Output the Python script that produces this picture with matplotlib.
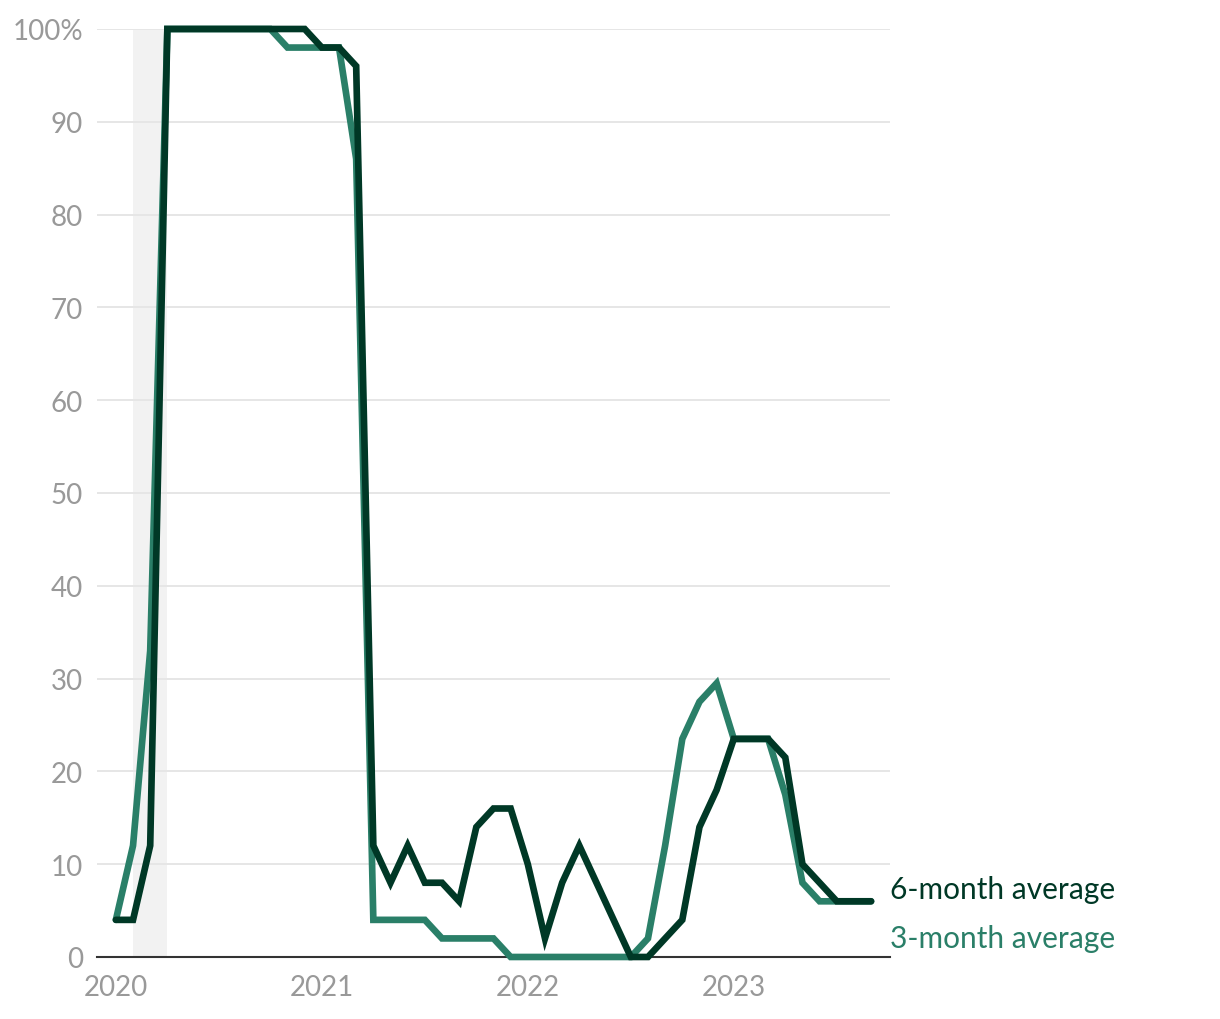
import matplotlib.pyplot as plt
import numpy as np

# monthly values, Jan 2020 .. Sep 2023
six_month = [4, 4, 12, 100, 100, 100, 100, 100, 100, 100, 100, 100,
             98, 98, 96, 12, 8, 12, 8, 8, 6, 14, 16, 16,
             10, 2, 8, 12, 8, 4, 0, 0, 2, 4, 14, 18,
             23.5, 23.5, 23.5, 21.5, 10, 8, 6, 6, 6]
three_month = [4, 12, 33, 100, 100, 100, 100, 100, 100, 100, 98, 98,
               98, 98, 86, 4, 4, 4, 4, 2, 2, 2, 2, 0,
               0, 0, 0, 0, 0, 0, 0, 2, 12, 23.5, 27.5, 29.5,
               23.5, 23.5, 23.5, 17.5, 8, 6, 6, 6, 6]
year_labels = ['2020', '2021', '2022', '2023']
recession = (1, 3)  # Feb 2020 .. Apr 2020

dark = '#003826'
teal = '#2a7f68'
gray = '#999999'

plt.rcParams['font.family'] = ['Lato', 'DejaVu Sans']

fig = plt.figure(figsize=(12.2, 10.2), dpi=100)
ax = fig.add_axes([0.0795, 0.0608, 0.65, 0.9098])

months = np.arange(len(six_month))
ax.axvspan(recession[0], recession[1], color='#f2f2f2', lw=0, zorder=0)
ax.plot(months, three_month, color=teal, lw=4.8, solid_joinstyle='miter',
        solid_capstyle='round', clip_on=False, zorder=3)
ax.plot(months, six_month, color=dark, lw=4.8, solid_joinstyle='miter',
        solid_capstyle='round', clip_on=False, zorder=4)

ax.set_xlim(-1.1, len(months) - 1 + 1.1)
ax.set_ylim(0, 100)
ax.set_yticks(range(0, 101, 10))
ax.set_yticklabels([str(v) if v < 100 else '100%' for v in range(0, 101, 10)])
ax.set_xticks([0, 12, 24, 36])
ax.set_xticklabels(year_labels)
ax.tick_params(axis='both', length=0, labelsize=20, labelcolor=gray)
ax.tick_params(axis='y', pad=10)
ax.tick_params(axis='x', pad=12)
ax.grid(axis='y', color='#e6e6e6', lw=1.4)
ax.set_axisbelow(True)
for s in ['top', 'right', 'left']:
    ax.spines[s].set_visible(False)
ax.spines['bottom'].set_color('#333333')
ax.spines['bottom'].set_linewidth(1.5)

last = len(months) - 1
ax.text(last + 1.1, 7.3, '6-month average', color=dark, fontsize=21.5,
        va='center', ha='left', clip_on=False)
ax.text(last + 1.1, 2.0, '3-month average', color=teal, fontsize=21.5,
        va='center', ha='left', clip_on=False)

fig.savefig('out.png', dpi=100)
